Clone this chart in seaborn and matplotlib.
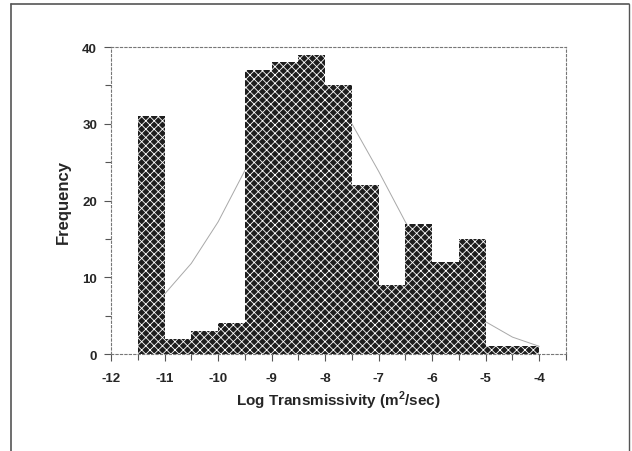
import numpy as np
import pandas as pd
import seaborn as sns
import matplotlib.pyplot as plt
from matplotlib.lines import Line2D
from matplotlib.ticker import MultipleLocator

# datos
bordes = [-11.5, -11.0, -10.5, -10.0, -9.5, -9.0, -8.5, -8.0, -7.5,
          -7.0, -6.5, -6.0, -5.5, -5.0, -4.5, -4.0]
frecuencias = [31, 2, 3, 4, 37, 38, 39, 35, 22, 9, 17, 12, 15, 1, 1]

# curva normal ajustada (valores estimados del grafico)
curva_x = [-11.0, -10.5, -10.0, -9.5, -9.0, -8.5, -8.0, -7.5,
           -7.0, -6.5, -6.0, -5.5, -5.0, -4.5, -4.0]
curva_y = [7.8, 11.8, 17.2, 23.9, 29.0, 32.3, 33.0, 30.0,
           23.8, 17.2, 11.2, 6.8, 4.2, 2.2, 1.0]

centros = [(a + b) / 2 for a, b in zip(bordes[:-1], bordes[1:])]
df = pd.DataFrame({"logT": centros, "n": frecuencias})
df_curva = pd.DataFrame({"x": curva_x, "y": curva_y})

sns.set_style("white")
plt.rcParams["font.family"] = ["Liberation Sans Narrow", "Liberation Sans", "DejaVu Sans"]
plt.rcParams["font.weight"] = "bold"
plt.rcParams["axes.unicode_minus"] = False
plt.rcParams["mathtext.fontset"] = "custom"
plt.rcParams["mathtext.rm"] = "Liberation Sans:bold"
plt.rcParams["mathtext.bf"] = "Liberation Sans:bold"
plt.rcParams["hatch.color"] = "#747474"
plt.rcParams["hatch.linewidth"] = 0.6

fig = plt.figure(figsize=(6.32, 4.52), dpi=100)
ax = fig.add_axes([0.1756, 0.2146, 0.72, 0.6792])

# curva por debajo de las barras
sns.lineplot(data=df_curva, x="x", y="y", ax=ax, color="#a8a8a8",
             linewidth=0.7, zorder=1)
sns.histplot(data=df, x="logT", weights="n", bins=bordes, ax=ax,
             color="#1e1e1e", alpha=1, linewidth=0, hatch="xxxx", zorder=2)

ax.set_xlim(-12, -3.5)
ax.set_ylim(0, 40)
ax.xaxis.set_major_locator(MultipleLocator(1))
ax.xaxis.set_minor_locator(MultipleLocator(0.5))
ax.yaxis.set_major_locator(MultipleLocator(10))
ax.yaxis.set_minor_locator(MultipleLocator(5))
ax.tick_params(which="both", direction="out", color="#555555", width=0.8,
               labelsize=9.5)
ax.tick_params(which="major", length=5)
ax.tick_params(which="minor", length=4)
ax.tick_params(axis="x", which="major", pad=8)
ax.tick_params(axis="y", which="major", pad=5)
ax.tick_params(axis="both", which="both", bottom=True, left=True)
for lab in ax.get_xticklabels() + ax.get_yticklabels():
    lab.set_fontweight("bold")

for s in ax.spines.values():
    s.set_visible(True)
    s.set_linestyle((0, (2, 2)))
    s.set_color("#777777")
    s.set_linewidth(0.8)

ax.set_xlabel(r"Log Transmissivity (m$^{\mathrm{2}}$/sec)", fontsize=11,
              fontweight="bold", labelpad=3)
ax.set_ylabel("Frequency", fontsize=12, fontweight="bold", labelpad=8)

# marco de la pagina escaneada
fig.add_artist(Line2D([11 / 632, 11 / 632], [0, 1 - 5 / 452], color="#555555", lw=1.2))
fig.add_artist(Line2D([11 / 632, 629 / 632], [1 - 5 / 452, 1 - 5 / 452], color="#555555", lw=1.2))
fig.add_artist(Line2D([629 / 632, 629 / 632], [1 - 5 / 452, 0], color="#555555", lw=1.0))

fig.savefig("out.png", dpi=100)
